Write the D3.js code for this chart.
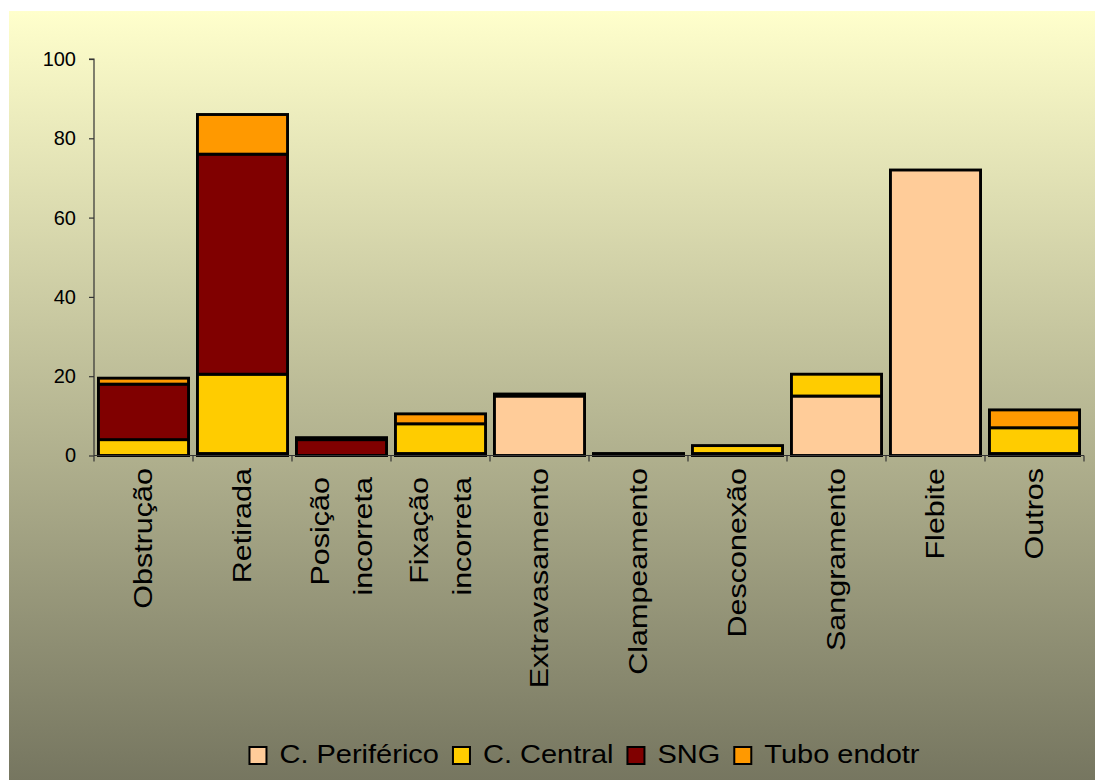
<!DOCTYPE html>
<html>
<head>
<meta charset="utf-8">
<script src="https://cdn.jsdelivr.net/npm/d3@7/dist/d3.min.js"></script>
<style>
  html, body { margin: 0; padding: 0; background: #ffffff; }
  svg { display: block; }
  text { font-family: "Liberation Sans", Arial, sans-serif; fill: #000; }
</style>
</head>
<body>
<svg id="chart" width="1095" height="780"></svg>
<script>
// Incident categories (line breaks split long labels)
const categories = ["Obstrução", "Retirada", "Posição\nincorreta", "Fixação\nincorreta",
  "Extravasamento", "Clampeamento", "Desconexão", "Sangramento", "Flebite", "Outros"];

// Series values per category
const periferico = [0, 0.5, 0, 0.5, 15, 0, 0.5, 15, 72, 0.5];
const central    = [4, 20, 0, 7.5, 0, 0, 2, 5.5, 0, 6.5];
const sng        = [14, 55.5, 4, 0, 0.5, 0.5, 0, 0, 0, 0];
const tubo       = [1.5, 10, 0.5, 2.5, 0, 0, 0, 0, 0, 4.5];

const seriesNames  = ["C. Periférico", "C. Central", "SNG", "Tubo endotr"];
const seriesColors = ["#FFCC99", "#FFCC00", "#800000", "#FF9900"];
const yTicks = [0, 20, 40, 60, 80, 100];

const svg = d3.select("#chart");
const W = 1095, H = 780;

// Background panel with vertical gradient
const defs = svg.append("defs");
const grad = defs.append("linearGradient").attr("id", "bg")
  .attr("x1", 0).attr("y1", 0).attr("x2", 0).attr("y2", 1);
grad.append("stop").attr("offset", "0%").attr("stop-color", "#FFFFCC");
grad.append("stop").attr("offset", "100%").attr("stop-color", "#767660");
svg.append("rect").attr("x", 9).attr("y", 11).attr("width", W - 9).attr("height", H - 11)
  .attr("fill", "url(#bg)");

// Scales
const x = d3.scaleBand().domain(categories).range([94, 1084]).paddingInner(0.09).paddingOuter(0.045);
const y = d3.scaleLinear().domain([0, 100]).range([455.5, 59]);

// Stacked data
const rows = categories.map((c, i) => ({
  cat: c, p: periferico[i], c: central[i], s: sng[i], t: tubo[i]
}));
const keys = ["p", "c", "s", "t"];
const stacked = d3.stack().keys(keys)(rows);

// Bars
const layers = svg.append("g").selectAll("g").data(stacked).join("g")
  .attr("fill", (d, i) => seriesColors[i]);
layers.selectAll("rect")
  .data(d => d.filter(v => v[1] - v[0] > 0))
  .join("rect")
  .attr("x", d => x(d.data.cat))
  .attr("width", x.bandwidth())
  .attr("y", d => y(d[1]))
  .attr("height", d => y(d[0]) - y(d[1]))
  .attr("stroke", "#000")
  .attr("stroke-width", 2.9)
  .attr("stroke-linejoin", "miter");

// Y axis
const yAxis = svg.append("g").attr("transform", "translate(94,0)")
  .call(d3.axisLeft(y).tickValues(yTicks).tickSize(5).tickPadding(13).tickFormat(d3.format("d")));
yAxis.select(".domain").attr("stroke", "#333").attr("stroke-width", 1.2).attr("d", `M-5,${y(100)}H0V${y(0)}`);
yAxis.selectAll(".tick line").attr("stroke", "#333").attr("stroke-width", 1.2);
yAxis.selectAll(".tick text").attr("font-size", 20).attr("font-family", "Liberation Sans, Arial, sans-serif").attr("fill", "#000");

// X axis line with category separators
const xAxis = svg.append("g");
xAxis.append("line").attr("x1", 94).attr("x2", 1084).attr("y1", y(0)).attr("y2", y(0))
  .attr("stroke", "#333").attr("stroke-width", 1.2);
const bounds = d3.range(categories.length + 1).map(i => 94 + i * (990 / categories.length));
xAxis.selectAll("line.sep").data(bounds).join("line").attr("class", "sep")
  .attr("x1", d => d).attr("x2", d => d)
  .attr("y1", y(0)).attr("y2", y(0) + 6)
  .attr("stroke", "#333").attr("stroke-width", 1.2);

// Rotated category labels
categories.forEach(c => {
  const lines = c.split("\n");
  const cx = x(c) + x.bandwidth() / 2;
  const top = lines.length > 1 ? 477 : 468;
  lines.forEach((ln, j) => {
    const off = (j - (lines.length - 1) / 2) * 43;
    svg.append("text")
      .attr("transform", `translate(${cx + off},${top}) rotate(-90) scale(1.22,1)`)
      .attr("text-anchor", "end")
      .attr("dominant-baseline", "central")
      .attr("font-size", 25)
      .text(ln);
  });
});

// Legend
const legend = svg.append("g");
let lx = 0;
seriesNames.forEach((name, i) => {
  const g = legend.append("g").attr("transform", `translate(${lx},0)`);
  g.append("rect").attr("x", 0).attr("y", 747).attr("width", 17).attr("height", 17)
    .attr("fill", seriesColors[i]).attr("stroke", "#000").attr("stroke-width", 2);
  const t = g.append("text")
    .attr("transform", `translate(30,763) scale(1.16,1)`)
    .attr("font-size", 25)
    .text(name);
  const w = t.node().getComputedTextLength() * 1.16;
  lx += 30 + w + 14;
});
const legendW = lx - 14;
legend.attr("transform", `translate(${584.5 - legendW / 2},0)`);
</script>
</body>
</html>
